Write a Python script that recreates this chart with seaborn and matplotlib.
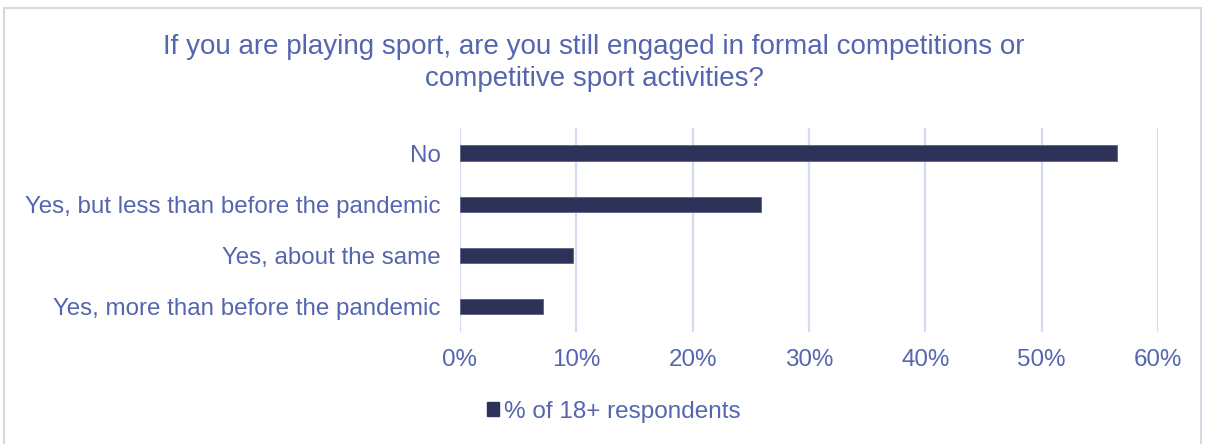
import matplotlib
matplotlib.use("Agg")
import matplotlib.pyplot as plt
from matplotlib.patches import Rectangle, Patch
import seaborn as sns
import pandas as pd

categories = [
    "No",
    "Yes, but less than before the pandemic",
    "Yes, about the same",
    "Yes, more than before the pandemic",
]
values = [56.5, 25.9, 9.7, 7.1]
xticks = [0, 10, 20, 30, 40, 50, 60]
xtick_labels = [f"{t}%" for t in xticks]
series_name = "% of 18+ respondents"
title = ("If you are playing sport, are you still engaged in formal competitions or\n"
         "competitive sport activities?")

TEXT = "#5566b0"
BAR = "#2d3358"
GRID = "#d8daf0"

sns.set_theme(style="white")
plt.rcParams["font.family"] = ["Liberation Sans", "DejaVu Sans"]

df = pd.DataFrame({"category": categories, "value": values})

fig = plt.figure(figsize=(12.05, 4.44), dpi=100)
ax = fig.add_axes([0.3817, 0.252, 0.5793, 0.460])

sns.barplot(data=df, x="value", y="category", orient="h", color=BAR,
            width=0.31, saturation=1, ax=ax, edgecolor="#5a6088", linewidth=0.6)

ax.set_xlim(0, 60)
ax.set_ylim(3.5, -0.5)
ax.set_xticks(xticks)
ax.set_xticklabels(xtick_labels)
ax.set_xlabel("")
ax.set_ylabel("")
ax.grid(axis="x", color=GRID, linewidth=1.6)
ax.set_axisbelow(True)
for s in ax.spines.values():
    s.set_visible(False)
ax.tick_params(axis="both", length=0, labelsize=17.4, colors=TEXT)
ax.tick_params(axis="x", pad=12)
ax.tick_params(axis="y", pad=14)

fig.text(0.493, 0.858, title, ha="center", va="center", fontsize=20,
         color=TEXT, linespacing=1.32)

fig.legend(handles=[Patch(facecolor=BAR, edgecolor=BAR, label=series_name)],
           loc="center", bbox_to_anchor=(0.509, 0.073), frameon=False,
           fontsize=17.5, labelcolor=TEXT, handlelength=0.5, handleheight=0.5,
           handletextpad=0.2)

# outer frame of the chart area
fig.patches.append(Rectangle((0.0035, -0.01), 0.993, 0.992, transform=fig.transFigure,
                             fill=False, edgecolor="#d6d8e6", linewidth=1.5))

fig.savefig("out.png", dpi=100, facecolor="white")
